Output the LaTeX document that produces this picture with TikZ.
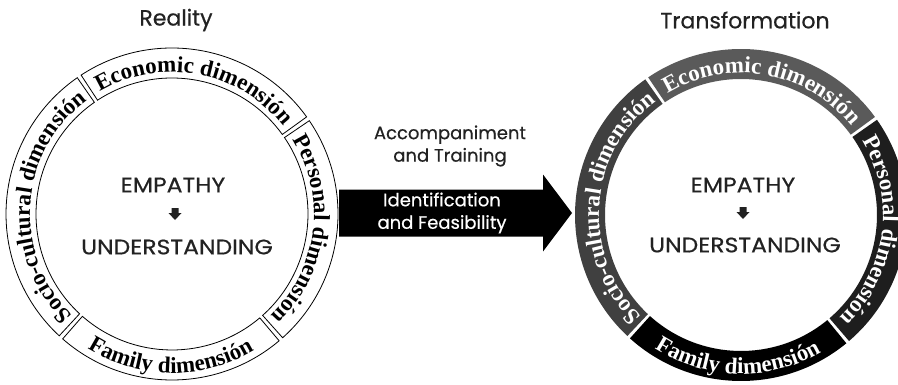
\documentclass[tikz,border=0pt]{standalone}
\usepackage{fontspec}
\setmainfont{Poppins}[FakeBold=0.5]
\newfontfamily\widesans{Poppins}[FakeBold=0.5, FakeStretch=1.12]
\newfontfamily\ringserif{Liberation Serif}
\usetikzlibrary{decorations.text}
\definecolor{ink}{HTML}{222222}
\definecolor{segEco}{HTML}{5A5A5A}
\definecolor{segSoc}{HTML}{404040}
\definecolor{segPer}{HTML}{1E1E1E}
\definecolor{segFam}{HTML}{000000}
\def\ro{166}
\def\ri{136}
\newcommand\ringseg[3]{\path[#1] (#2:\ro) arc[start angle=#2, end angle=#3, radius=\ro] -- (#3:\ri) arc[start angle=#3, end angle=#2, radius=\ri] -- cycle;}
\newcommand\ringtext[5]{\path[decorate,decoration={text along path,text={|#1|#5},text align=center}] (#2:#4) arc[start angle=#2, end angle=#3, radius=#4];}
\newcommand\blackring{\ringserif\bfseries\fontsize{23}{24}\selectfont}
\newcommand\whitering{\color{white}\ringserif\bfseries\fontsize{23}{24}\selectfont}
\tikzset{
  title/.style={font=\fontsize{22}{24}\selectfont, text=ink},
  big/.style={font=\widesans\fontsize{21}{24}\selectfont, text=ink},
  lbl/.style={font=\fontsize{18}{22.5}\selectfont, align=center},
  openseg/.style={draw=black, line width=0.8pt, fill=white},
}
\begin{document}
\begin{tikzpicture}[x=1pt,y=1pt]
\useasboundingbox (0,0) rectangle (898,384);
\fill[white] (0,0) rectangle (898,384);
\coordinate (lc) at (172,170);
\coordinate (rc) at (741,169);
% big arrow
\coordinate (arrowstart) at (339,171);
\coordinate (arrowtip) at (572,171);
\fill[black] (arrowstart) ++(0,23.5) -- ++(204,0) -- ++(0,15) -- (arrowtip) -- ++(-29,-38.5) -- ++(0,15) -- ++(-204,0) -- cycle;
\node[lbl, text=white] (ident) at (442,171) {Identification\\and Feasibility};
\node[lbl, text=ink] (accomp) at (450,238) {Accompaniment\\and Training};
% left ring
\begin{scope}[shift={(lc)}]
  \ringseg{openseg}{35.8}{123.2}
  \ringseg{openseg}{124.8}{227.2}
  \ringseg{openseg}{228.8}{310.2}
  \ringseg{openseg}{-48.2}{34.2}
  \ringtext{\blackring}{123.2}{35.8}{142}{Economic dimensión}
  \ringtext{\blackring}{227.2}{124.8}{142}{Socio-cultural dimensión}
  \ringtext{\blackring}{34.2}{-48.2}{142}{Personal dimensión}
  \ringtext{\blackring}{228.8}{310.2}{159}{Family dimensión}
\end{scope}
% right ring
\begin{scope}[shift={(rc)}]
  \ringseg{fill=segEco}{36.2}{124.0}
  \ringseg{fill=segSoc}{125.2}{226.8}
  \ringseg{fill=segFam}{228.0}{309.4}
  \ringseg{fill=segPer}{-49.4}{35.0}
  \ringtext{\whitering}{124.0}{36.2}{142}{Economic dimensión}
  \ringtext{\whitering}{226.8}{125.2}{142}{Socio-cultural dimensión}
  \ringtext{\whitering}{35.0}{-49.4}{142}{Personal dimensión}
  \ringtext{\whitering}{228.0}{309.4}{159}{Family dimensión}
\end{scope}
% titles
\node[title] (reality) at (176,364) {Reality};
\node[title] (transf) at (745,364) {Transformation};
% centre texts left
\node[big] (empL) at (173,199) {EMPATHY};
\node[big] (undL) at (177,137) {UNDERSTANDING};
\coordinate (darrL) at (175,170);
\fill[ink] (darrL) ++(-3.5,6) -- ++(7,0) -- ++(0,-5) -- ++(3,0) -- ++(-6.5,-7) -- ++(-6.5,7) -- ++(3,0) -- cycle;
% centre texts right
\node[big] (empR) at (743,199) {EMPATHY};
\node[big] (undR) at (745,139) {UNDERSTANDING};
\coordinate (darrR) at (743,171);
\fill[ink] (darrR) ++(-3.5,6) -- ++(7,0) -- ++(0,-5) -- ++(3,0) -- ++(-6.5,-7) -- ++(-6.5,7) -- ++(3,0) -- cycle;
\end{tikzpicture}
\end{document}
